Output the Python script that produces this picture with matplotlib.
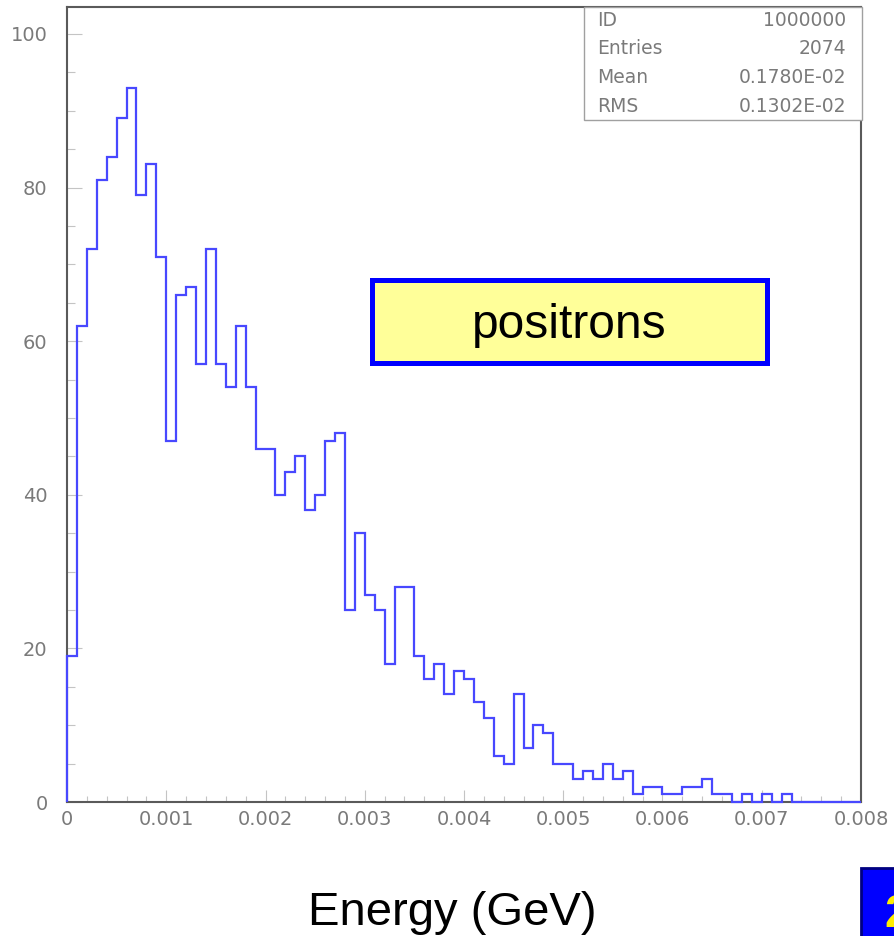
import matplotlib
matplotlib.use("Agg")
import matplotlib.pyplot as plt
from matplotlib.patches import Rectangle
from matplotlib.ticker import MultipleLocator
import numpy as np

# Positron energy spectrum, 80 bins between 0 and 0.008 GeV
counts = [19, 62, 72, 81, 84, 89, 93, 79, 83, 71,
          47, 66, 67, 57, 72, 57, 54, 62, 54, 46,
          46, 40, 43, 45, 38, 40, 47, 48, 25, 35,
          27, 25, 18, 28, 28, 19, 16, 18, 14, 17,
          16, 13, 11, 6, 5, 14, 7, 10, 9, 5,
          5, 3, 4, 3, 5, 3, 4, 1, 2, 2,
          1, 1, 2, 2, 3, 1, 1, 0, 1, 0,
          1, 0, 1, 0, 0, 0, 0, 0, 0, 0]
e_min, e_max = 0.0, 0.008

x_ticks = [0, 0.001, 0.002, 0.003, 0.004, 0.005, 0.006, 0.007, 0.008]
x_tick_labels = ["0", "0.001", "0.002", "0.003", "0.004", "0.005", "0.006", "0.007", "0.008"]
y_ticks = [0, 20, 40, 60, 80, 100]
y_tick_labels = ["0", "20", "40", "60", "80", "100"]

stat_names = ["ID", "Entries", "Mean", "RMS"]
stat_values = ["1000000", "2074", "0.1780E-02", "0.1302E-02"]

W, H = 895, 936
fig = plt.figure(figsize=(W / 100, H / 100), dpi=100)
fig.patch.set_facecolor("white")


def fx(px):
    return px / W


def fy(py):
    return 1 - py / H


ax = fig.add_axes([fx(67), fy(802), fx(861) - fx(67), fy(7) - fy(802)])

edges = np.linspace(e_min, e_max, len(counts) + 1)
ax.stairs(counts, edges, baseline=0, color="#4848ff", lw=1.6, clip_on=False, zorder=3)

ax.set_xlim(e_min, e_max)
ax.set_ylim(0, 103.5)

gray_txt = "#7a7a7a"
ax.set_xticks(x_ticks)
ax.set_xticklabels(x_tick_labels)
ax.set_yticks(y_ticks)
ax.set_yticklabels(y_tick_labels)
ax.xaxis.set_minor_locator(MultipleLocator(0.0002))
ax.yaxis.set_minor_locator(MultipleLocator(5))

ax.tick_params(which="both", direction="in", color="#c4c4c4", width=0.8)
ax.tick_params(axis="x", which="major", length=9, pad=6, labelsize=14, labelcolor=gray_txt)
ax.tick_params(axis="x", which="minor", length=4)
ax.tick_params(axis="y", which="major", length=11, pad=14, labelsize=14, labelcolor=gray_txt)
ax.tick_params(axis="y", which="minor", length=5.5)
for lab in ax.get_xticklabels() + ax.get_yticklabels():
    lab.set_fontfamily("DejaVu Sans")

for s in ax.spines.values():
    s.set_color("#5a5a5a")
    s.set_linewidth(1.5)

# statistics box
fig.add_artist(Rectangle((fx(584), fy(120)), fx(862) - fx(584), fy(7) - fy(120),
                         transform=fig.transFigure, facecolor="white",
                         edgecolor="#a0a0a0", lw=1.0, zorder=5))
row_y = [21, 49, 77.5, 106]
for name, val, yy in zip(stat_names, stat_values, row_y):
    fig.text(fx(597), fy(yy), name, ha="left", va="center", fontsize=13.5,
             color=gray_txt, family="DejaVu Sans", zorder=6)
    fig.text(fx(846), fy(yy), val, ha="right", va="center", fontsize=13.5,
             color=gray_txt, family="DejaVu Sans", zorder=6)

# label box
fig.add_artist(Rectangle((fx(372.5), fy(362.5)), fx(766.5) - fx(372.5), fy(279.5) - fy(362.5),
                         transform=fig.transFigure, facecolor="#ffff99",
                         edgecolor="#0000ff", lw=3.6, zorder=5))
fig.text(fx(569), fy(338), "positrons", ha="center", va="baseline", fontsize=34.5,
         family="Liberation Sans", color="black", zorder=6)

# axis title
fig.text(fx(452.5), fy(925), "Energy (GeV)", ha="center", va="baseline", fontsize=34,
         family="Liberation Sans", color="black")

# page number tab
fig.add_artist(Rectangle((fx(861), fy(940)), fx(905) - fx(861), fy(868) - fy(940),
                         transform=fig.transFigure, facecolor="#0000ff",
                         edgecolor="#000080", lw=2, zorder=5))
fig.text(fx(884), fy(927), "2", ha="left", va="baseline", fontsize=34,
         family="Liberation Sans", fontweight="bold", color="#ffee00", zorder=6)

fig.savefig("out.png", dpi=100)
